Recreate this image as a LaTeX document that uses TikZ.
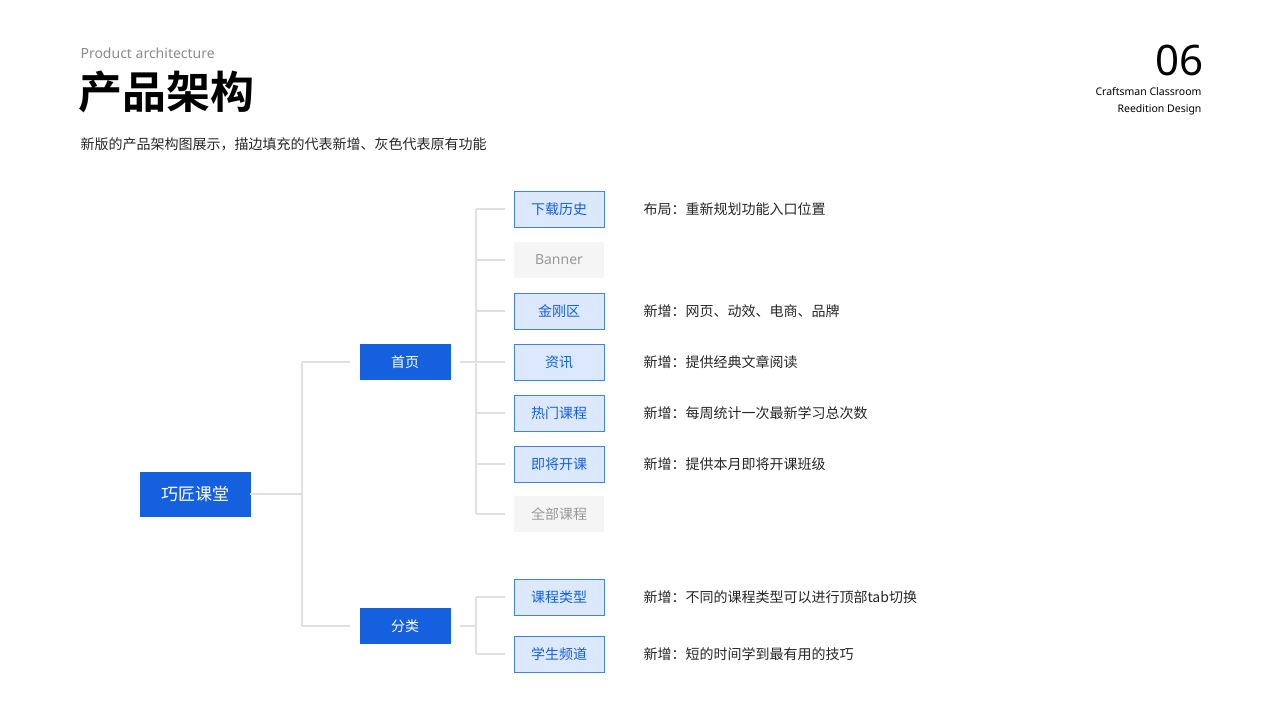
\documentclass[tikz,border=0pt]{standalone}
\usepackage{fontspec}
\setmainfont{Noto Sans CJK SC}[BoldFont={* Bold}]
\newfontfamily\latinf{Noto Sans}
\begin{document}
\begin{tikzpicture}[x=1pt,y=-1pt,
  fs/.style={font=\fontsize{#1}{#1}\selectfont},
  tline/.style={draw=black!12,line width=1.5pt},
  mainbox/.style={fill=blue1,draw=blue1,text=white,minimum width=110,minimum height=44,fs=17},
  lvbox/.style={fill=blue1,draw=blue1,text=white,minimum width=90,minimum height=35,fs=14},
  newbox/.style={fill=lightb,draw=blue1!80,line width=0.8pt,text=blue1,minimum width=90,minimum height=36,fs=14},
  oldbox/.style={fill=black!4,text=black!40,minimum width=90,minimum height=36,fs=14},
  desc/.style={anchor=west,fs=14,text=black!85}]
\definecolor{blue1}{HTML}{1560DE}
\definecolor{lightb}{HTML}{DCE8FC}
\useasboundingbox (0,0) rectangle (1280,720);
\node[anchor=west,text=black!45,fs=14] (t0) at (77,53) {\latinf Product architecture};
\node[anchor=west,fs=44] (t1) at (75,92) {\bfseries 产品架构};
\node[anchor=west,fs=14,text=black!85] (t2) at (77,144) {新版的产品架构图展示，描边填充的代表新增、灰色代表原有功能};
\node[anchor=east,fs=42] (n06) at (1207,60) {\latinf 06};
\node[anchor=east,fs=10.5] (c1) at (1205,92) {\latinf Craftsman Classroom};
\node[anchor=east,fs=10.5] (c2) at (1205,110) {\latinf Reedition Design};

\node[mainbox] (root) at (195,494) {巧匠课堂};
\node[lvbox] (home) at (405,362) {首页};
\node[lvbox] (cat) at (405,626) {分类};
\coordinate (j0) at (302,494);
\draw[tline] (root.east) -- (j0);
\draw[tline] (302,362) -- (302,626);
\draw[tline] (302,362) -- (350,362);
\draw[tline] (302,626) -- (350,626);

\foreach \n/\y/\s/\t/\d in {a/209/newbox/下载历史/布局：重新规划功能入口位置,
  b/260/oldbox/\latinf Banner/,
  c/311/newbox/金刚区/新增：网页、动效、电商、品牌,
  d/362/newbox/资讯/新增：提供经典文章阅读,
  e/413/newbox/热门课程/新增：每周统计一次最新学习总次数,
  f/464/newbox/即将开课/新增：提供本月即将开课班级,
  g/514/oldbox/全部课程/,
  h/597/newbox/课程类型/新增：不同的课程类型可以进行顶部tab切换,
  i/654/newbox/学生频道/新增：短的时间学到最有用的技巧}{
  \node[\s] (\n) at (559,\y) {\t};
  \node[desc] (\n d) at (640,\y) {\d};
  \draw[tline] (476,\y) -- (505,\y);
}
\draw[tline] (460,362) -- (476,362);
\draw[tline] (476,209) -- (476,514);
\draw[tline] (460,626) -- (476,626);
\draw[tline] (476,597) -- (476,654);
\end{tikzpicture}
\end{document}
